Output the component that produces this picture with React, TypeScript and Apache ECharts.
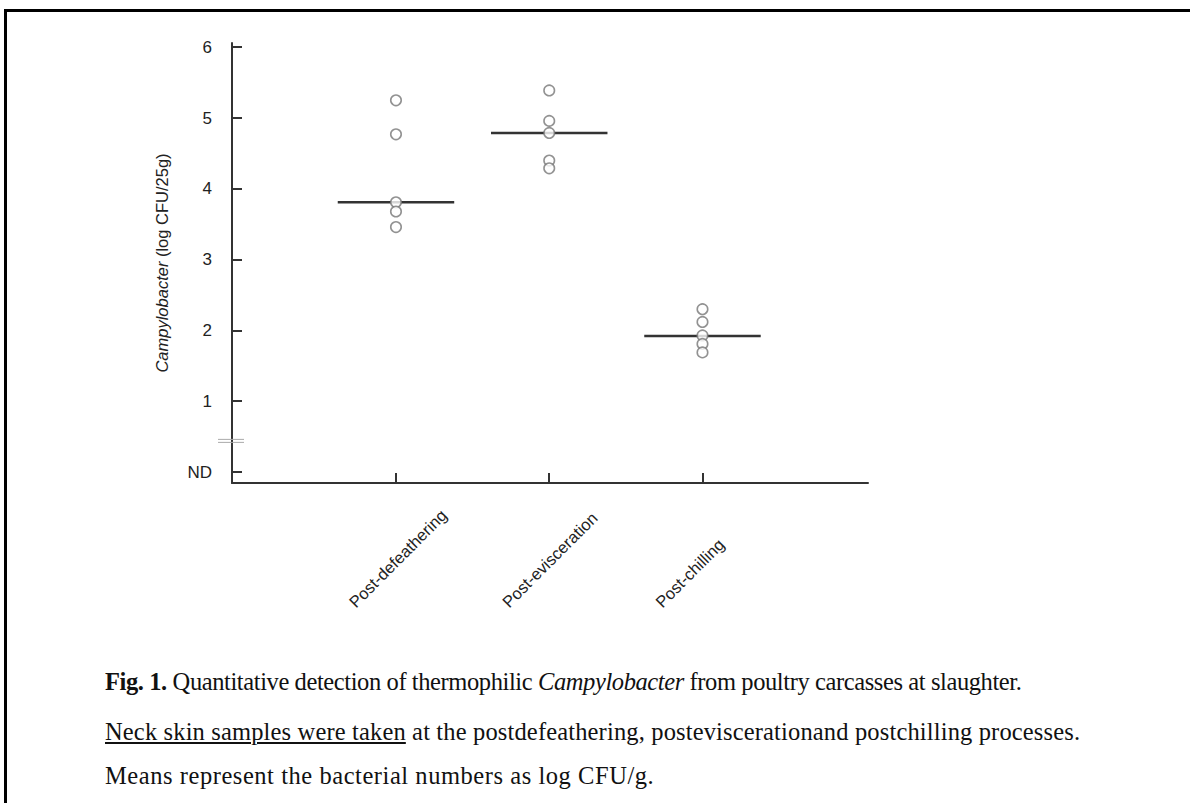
import React, { useEffect, useRef } from "react";
import * as echarts from "echarts";

const categories = ["Post-defeathering", "Post-evisceration", "Post-chilling"];
const categoryPositions = [1, 2, 3];
const defeatheringValues = [5.25, 4.77, 3.81, 3.68, 3.46];
const eviscerationValues = [5.39, 4.96, 4.79, 4.4, 4.29];
const chillingValues = [2.3, 2.12, 1.93, 1.81, 1.69];
const groupMeans = [3.81, 4.79, 1.92];
const yTickValues = [0, 1, 2, 3, 4, 5, 6];
const yTickLabels = ["ND", "1", "2", "3", "4", "5", "6"];
const axisBreakValue = 0.44;

const X_MIN = -0.07;
const X_MAX = 4.08;
const Y_MIN = -0.155;
const Y_MAX = 6.06;
const MEAN_HALF_WIDTH = 0.38;

const SANS = "'Liberation Sans', Arial, sans-serif";

function App() {
  const ref = useRef<HTMLDivElement>(null);

  useEffect(() => {
    if (!ref.current) return;
    const chart = echarts.init(ref.current, undefined, { renderer: "svg" });
    const groups = [defeatheringValues, eviscerationValues, chillingValues];
    const scatterData: number[][] = [];
    groups.forEach((vals, i) => {
      vals.forEach((v) => scatterData.push([categoryPositions[i], v]));
    });
    const meanData = groupMeans.map((m, i) => [categoryPositions[i], m]);

    chart.setOption({
      animation: false,
      backgroundColor: "transparent",
      grid: { left: 232, right: 322, top: 43, bottom: 320, containLabel: false },
      xAxis: {
        type: "value",
        min: X_MIN,
        max: X_MAX,
        splitLine: { show: false },
        axisLine: { show: true, onZero: false, lineStyle: { color: "#333", width: 2 } },
        axisTick: {
          show: true,
          inside: true,
          length: 10,
          customValues: categoryPositions,
          lineStyle: { color: "#333", width: 2 },
        },
        axisLabel: {
          customValues: categoryPositions,
          formatter: (v: number) => {
            const idx = categoryPositions.indexOf(Math.round(v));
            return idx >= 0 ? categories[idx] : "";
          },
          rotate: 45,
          align: "left",
          verticalAlign: "bottom",
          margin: 167,
          padding: [0, 0, 55, 1],
          color: "#222",
          fontSize: 16.5,
          fontFamily: SANS,
        },
      },
      yAxis: {
        type: "value",
        min: Y_MIN,
        max: Y_MAX,
        splitLine: { show: false },
        axisLine: { show: true, onZero: false, lineStyle: { color: "#333", width: 2 } },
        axisTick: {
          show: true,
          inside: true,
          length: 10,
          customValues: yTickValues,
          lineStyle: { color: "#333", width: 2 },
        },
        axisLabel: {
          customValues: yTickValues,
          formatter: (v: number) => {
            const idx = yTickValues.indexOf(Math.round(v));
            return idx >= 0 ? yTickLabels[idx] : "";
          },
          margin: 20,
          color: "#222",
          fontSize: 17,
          fontFamily: SANS,
        },
        name: "{i|Campylobacter} (log CFU/25g)",
        nameLocation: "middle",
        nameGap: 62,
        nameRotate: 90,
        nameTextStyle: {
          color: "#222",
          fontSize: 16.5,
          fontFamily: SANS,
          rich: {
            i: {
              fontStyle: "italic",
              fontSize: 16.5,
              color: "#222",
              fontFamily: SANS,
            },
          },
        },
      },
      series: [
        {
          type: "custom",
          name: "means",
          data: meanData,
          z: 2,
          renderItem: (params: any, api: any) => {
            const x = api.value(0);
            const y = api.value(1);
            const p1 = api.coord([x - MEAN_HALF_WIDTH, y]);
            const p2 = api.coord([x + MEAN_HALF_WIDTH, y]);
            return {
              type: "line",
              shape: { x1: p1[0], y1: p1[1], x2: p2[0], y2: p2[1] },
              style: { stroke: "#333", lineWidth: 2.5 },
            };
          },
        },
        {
          type: "scatter",
          name: "samples",
          data: scatterData,
          z: 3,
          symbol: "circle",
          symbolSize: 10.5,
          itemStyle: { color: "#fff", borderColor: "#777", borderWidth: 1.6 },
        },
        {
          type: "custom",
          name: "axisBreak",
          data: [[X_MIN, axisBreakValue]],
          clip: false,
          z: 4,
          renderItem: (params: any, api: any) => {
            const p = api.coord([api.value(0), api.value(1)]);
            return {
              type: "group",
              children: [
                {
                  type: "line",
                  shape: { x1: p[0] - 14, y1: p[1] - 1.5, x2: p[0] + 12, y2: p[1] - 1.5 },
                  style: { stroke: "#aaa", lineWidth: 1 },
                },
                {
                  type: "line",
                  shape: { x1: p[0] - 14, y1: p[1] + 1.5, x2: p[0] + 12, y2: p[1] + 1.5 },
                  style: { stroke: "#aaa", lineWidth: 1 },
                },
              ],
            };
          },
        },
      ],
    });
    return () => chart.dispose();
  }, []);

  const captionStyle: React.CSSProperties = {
    position: "absolute",
    left: 105,
    fontFamily: "'Liberation Serif', 'Times New Roman', serif",
    fontSize: 24.5,
    lineHeight: "24px",
    color: "#111",
    whiteSpace: "nowrap",
  };

  return (
    <div style={{ position: "absolute", left: 0, top: 0, width: 1190, height: 803, background: "#fff", overflow: "hidden" }}>
      <div
        style={{
          position: "absolute",
          left: 4,
          top: 9,
          width: 1200,
          height: 820,
          borderTop: "3px solid #000",
          borderLeft: "3px solid #000",
          boxSizing: "border-box",
        }}
      />
      <div ref={ref} style={{ position: "absolute", left: 0, top: 0, width: 1190, height: 803 }} />
      <div style={{ ...captionStyle, top: 670, letterSpacing: "-0.4px" }}>
        <b>Fig. 1.</b> Quantitative detection of thermophilic <i>Campylobacter</i> from poultry carcasses at slaughter.
      </div>
      <div style={{ ...captionStyle, top: 720, letterSpacing: "0.15px" }}>
        <u>Neck skin samples were taken</u> at the postdefeathering, posteviscerationand postchilling processes.
      </div>
      <div style={{ ...captionStyle, top: 764, letterSpacing: "0.55px" }}>
        Means represent the bacterial numbers as log CFU/g.
      </div>
    </div>
  );
}

export default App;
